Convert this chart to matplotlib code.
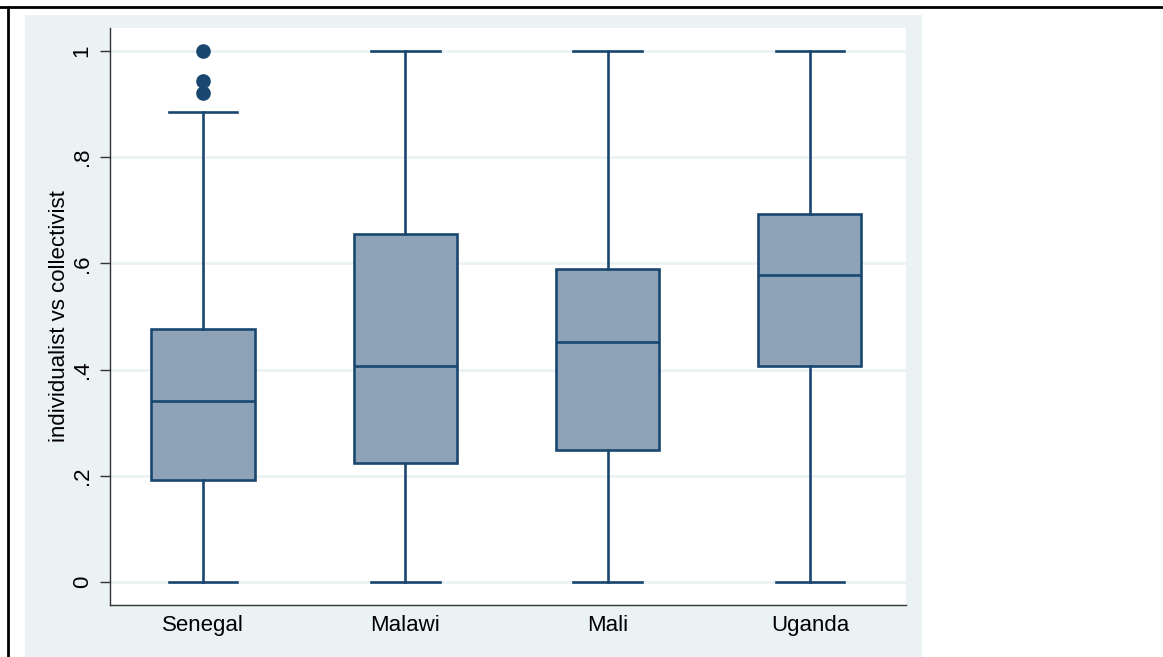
import matplotlib
matplotlib.use("Agg")
import matplotlib.pyplot as plt
from matplotlib.patches import Rectangle
from matplotlib.lines import Line2D

countries = ["Senegal", "Malawi", "Mali", "Uganda"]
whislo = [0.0, 0.0, 0.0, 0.0]
q1 = [0.192, 0.224, 0.249, 0.407]
med = [0.341, 0.407, 0.452, 0.578]
q3 = [0.476, 0.655, 0.589, 0.693]
whishi = [0.885, 1.0, 1.0, 1.0]
fliers = [[1.0, 0.943, 0.921], [], [], []]

yticks = [0, 0.2, 0.4, 0.6, 0.8, 1.0]
yticklabels = ["0", ".2", ".4", ".6", ".8", "1"]

navy = "#1a476f"
fill = "#8ea3b8"
bg = "#eaf2f3"

plt.rcParams["font.family"] = ["Liberation Sans", "DejaVu Sans"]

fig = plt.figure(figsize=(11.63, 6.57), dpi=100)
W, H = 1163, 657

# stata-like outer region
fig.patches.append(Rectangle((25 / W, 0), 897 / W, (H - 15) / H,
                             transform=fig.transFigure, facecolor=bg,
                             edgecolor="none", zorder=-10))
# black frame lines (top and left)
fig.lines.append(Line2D([0, 1], [1 - 7 / H, 1 - 7 / H], transform=fig.transFigure,
                        color="black", lw=2))
fig.lines.append(Line2D([8 / W, 8 / W], [0, 1 - 7 / H], transform=fig.transFigure,
                        color="black", lw=2))

ax = fig.add_axes([110 / W, (H - 605) / H, (906 - 110) / W, (605 - 28) / H])
ax.set_facecolor("white")

stats = []
for i, c in enumerate(countries):
    stats.append(dict(label=c, whislo=whislo[i], q1=q1[i], med=med[i],
                      q3=q3[i], whishi=whishi[i], fliers=fliers[i]))

ax.bxp(stats, positions=[1, 2, 3, 4], widths=0.51, patch_artist=True,
       showfliers=True,
       boxprops=dict(facecolor=fill, edgecolor=navy, linewidth=1.9),
       medianprops=dict(color=navy, linewidth=1.9),
       whiskerprops=dict(color=navy, linewidth=1.9),
       capprops=dict(color=navy, linewidth=1.9),
       capwidths=0.34,
       flierprops=dict(marker="o", markerfacecolor=navy, markeredgecolor=navy,
                       markersize=9.5))

ax.set_xlim(0.54, 4.475)
ax.set_ylim(-0.0433, 1.0433)
ax.set_yticks(yticks)
ax.set_yticklabels(yticklabels, rotation=90, va="center")
ax.yaxis.grid(True, color=bg, linewidth=2)
ax.set_axisbelow(True)
ax.set_ylabel("individualist vs collectivist", fontsize=16, labelpad=1)

for s in ["top", "right"]:
    ax.spines[s].set_visible(False)
for s in ["left", "bottom"]:
    ax.spines[s].set_color("#333333")
    ax.spines[s].set_linewidth(1)

ax.tick_params(axis="y", direction="out", length=7.5, width=1, color="#333333",
               labelsize=16, pad=5)
ax.tick_params(axis="x", length=0, labelsize=16, pad=7)

fig.savefig("out.png", dpi=100)
